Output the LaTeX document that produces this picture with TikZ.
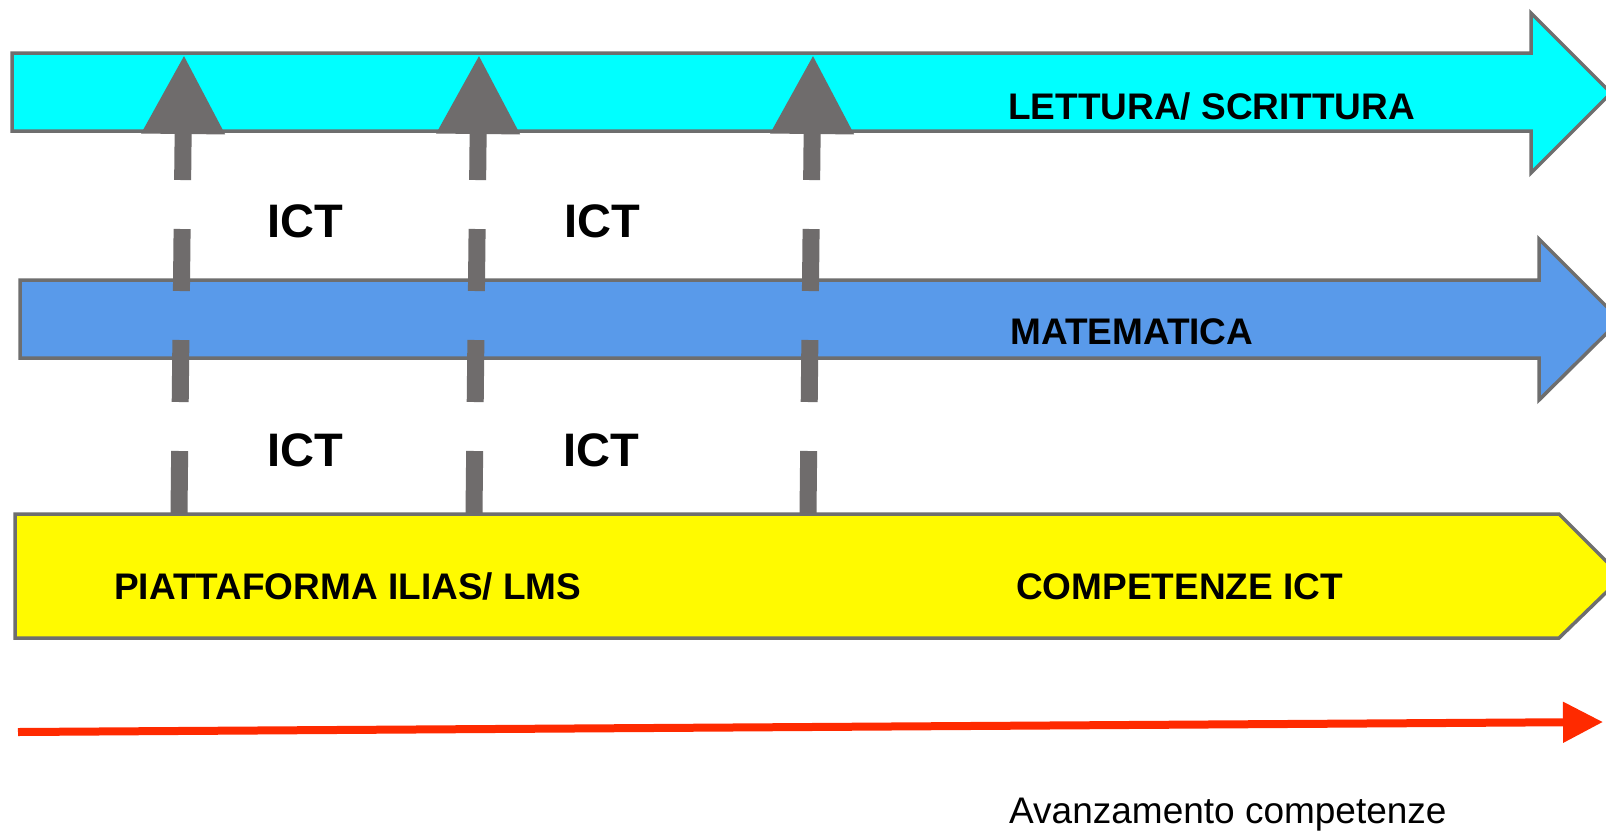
\documentclass[tikz,border=0pt]{standalone}
\usepackage{fontspec}
\setmainfont{Liberation Sans}
\usetikzlibrary{arrows.meta}
\definecolor{bandgray}{RGB}{110,110,110}
\definecolor{arrgray}{RGB}{111,108,108}
\definecolor{cyanband}{RGB}{0,255,255}
\definecolor{blueband}{RGB}{89,154,234}
\definecolor{yellowband}{RGB}{255,250,0}
\definecolor{redarrow}{RGB}{255,42,0}
\tikzset{
  band/.style={draw=bandgray,line width=3.5pt,line join=miter},
  bandlabel/.style={anchor=base west,inner sep=0pt,font=\fontsize{37}{40}\selectfont\bfseries},
  ictlabel/.style={anchor=base west,inner sep=0pt,font=\fontsize{47}{50}\selectfont\bfseries},
  ictarrow/.style={draw=arrgray,line width=17pt,dash pattern=on 62pt off 49pt,
    -{Triangle[length=79pt,width=79pt,fill=arrgray,sep=0pt]}},
  progress/.style={draw=redarrow,line width=8pt,-{Triangle[length=40pt,width=39pt,fill=redarrow]}}
}
\begin{document}
\begin{tikzpicture}[x=1pt,y=-1pt]
\useasboundingbox (0,0) rectangle (1606,833);
% bands
\fill[white] (0,0) rectangle (1606,833);
\draw[band,fill=cyanband] (12,53) -- (1531,53) -- (1531,13) -- (1611,93) -- (1531,173) -- (1531,131) -- (12,131) -- cycle;
\draw[band,fill=blueband] (20,280) -- (1539,280) -- (1539,239) -- (1620,320) -- (1539,400) -- (1539,358) -- (20,358) -- cycle;
\draw[band,fill=yellowband] (15,514) -- (1559,514) -- (1622,577) -- (1559,638) -- (15,638) -- cycle;
% labels
\node[bandlabel] (lett) at (1008,119) {LETTURA/ SCRITTURA};
\node[bandlabel] (mate) at (1010,344) {MATEMATICA};
\node[bandlabel] (piat) at (114,599) {PIATTAFORMA ILIAS/ LMS};
\node[bandlabel] (comp) at (1016,599) {COMPETENZE ICT};
\node[ictlabel] (ict1) at (267,237) {ICT};
\node[ictlabel] (ict2) at (564,237) {ICT};
\node[ictlabel] (ict3) at (267,466) {ICT};
\node[ictlabel] (ict4) at (563,466) {ICT};
% ICT arrows
\coordinate (a1b) at (179,513); \coordinate (a1t) at (184,55);
\coordinate (a2b) at (474,513); \coordinate (a2t) at (479,55);
\coordinate (a3b) at (808,513); \coordinate (a3t) at (813,55);
\draw[ictarrow] (a1b) -- (a1t);
\draw[ictarrow] (a2b) -- (a2t);
\draw[ictarrow] (a3b) -- (a3t);
% progress arrow
\coordinate (rs) at (18,732); \coordinate (re) at (1603,722);
\draw[progress] (rs) -- (re);
\node[anchor=base west,inner sep=0pt,font=\fontsize{37}{40}\selectfont] (avan) at (1009,823) {Avanzamento competenze};
\end{tikzpicture}
\end{document}
